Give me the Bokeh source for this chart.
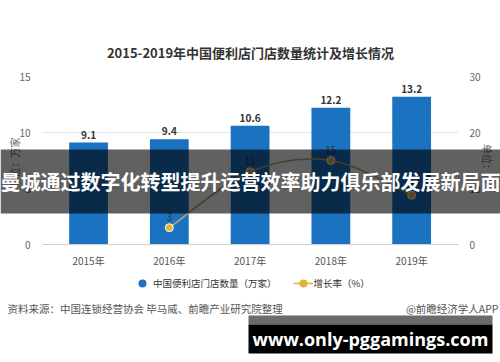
import math
from bokeh.plotting import figure
from bokeh.models import (Range1d, LinearAxis, FixedTicker, Legend, LegendItem,
                          ColumnDataSource)
from bokeh.core.properties import value
from bokeh.embed import file_html
from bokeh.resources import INLINE

# ---- data ----
years = ["2015年", "2016年", "2017年", "2018年", "2019年"]
stores = [9.1, 9.4, 10.6, 12.2, 13.2]            # 万家
growth_years = ["2016年", "2017年", "2018年", "2019年"]
growth = [3, 13, 15, 8.8]                        # %
left_ticks = [0, 5, 10, 15]
right_ticks = [0, 10, 20, 30]

title_text = "2015-2019年中国便利店门店数量统计及增长情况"
left_title = "单位：万家"
right_title = "单位：%"
legend_bar = "中国便利店门店数量（万家）"
legend_line = "增长率（%）"
source_left = "资料来源：中国连锁经营协会 毕马威、前瞻产业研究院整理"
source_right = "@前瞻经济学人APP"
banner_text = "曼城通过数字化转型提升运营效率助力俱乐部发展新局面"
site_text = "www.only-pggamings.com"

BLUE = "#1a72c0"
GOLD = "#e2b23a"
GOLD_LINE = "#bba262"
FONT = "Noto Sans CJK SC"
W, H = 500, 362

xi = list(range(len(years)))
gx = [years.index(y) for y in growth_years]

# ================= main chart =================
p = figure(width=W, height=H, output_backend="svg", toolbar_location=None,
           x_range=Range1d(-0.57, 4.58), y_range=Range1d(0, 15),
           min_border_left=42, min_border_right=42, min_border_top=76, min_border_bottom=118)
p.outline_line_color = None
p.background_fill_color = "white"
p.border_fill_color = "white"
p.extra_y_ranges = {"right": Range1d(0, 30)}

p.xaxis.ticker = FixedTicker(ticks=xi)
p.xaxis.major_label_overrides = {i: y for i, y in zip(xi, years)}
p.xaxis.major_tick_line_color = None
p.xaxis.minor_tick_line_color = None
p.xaxis.axis_line_color = "#cfcfcf"
p.xaxis.major_label_standoff = 2
p.xaxis.major_label_text_font = FONT
p.xaxis.major_label_text_font_size = "10px"
p.xaxis.major_label_text_color = "#555555"

p.yaxis.ticker = FixedTicker(ticks=left_ticks)
p.yaxis.axis_line_color = None
p.yaxis.major_tick_line_color = None
p.yaxis.minor_tick_line_color = None
p.yaxis.major_label_standoff = 6
p.yaxis.major_label_text_font = FONT
p.yaxis.major_label_text_font_size = "10px"
p.yaxis.major_label_text_color = "#666666"

ra = LinearAxis(y_range_name="right", ticker=FixedTicker(ticks=right_ticks))
ra.axis_line_color = None
ra.major_tick_line_color = None
ra.minor_tick_line_color = None
ra.major_label_standoff = 5
ra.major_label_text_font = FONT
ra.major_label_text_font_size = "10px"
ra.major_label_text_color = "#666666"
p.add_layout(ra, "right")

p.xgrid.grid_line_color = None
p.ygrid.grid_line_color = "#e3e3e3"

bsrc = ColumnDataSource(dict(x=xi, y=stores, lab=[f"{v:.1f}" for v in stores]))
p.vbar(x="x", top="y", width=0.48, source=bsrc, fill_color=BLUE, line_color=None)
p.text(x="x", y="y", text="lab", source=bsrc, y_offset=-4, text_align="center",
       text_baseline="bottom", text_font=value(FONT), text_font_style="bold",
       text_font_size="10px", text_color="#333333")

# smooth growth line (Catmull-Rom bezier through the data points)
n = len(gx)
x0s, y0s, x1s, y1s, cx0, cy0, cx1, cy1 = [], [], [], [], [], [], [], []
for i in range(n - 1):
    pa = (gx[i - 1], growth[i - 1]) if i > 0 else (gx[i], growth[i])
    pb = (gx[i], growth[i])
    pc = (gx[i + 1], growth[i + 1])
    pd = (gx[i + 2], growth[i + 2]) if i + 2 < n else (gx[i + 1], growth[i + 1])
    x0s.append(pb[0]); y0s.append(pb[1]); x1s.append(pc[0]); y1s.append(pc[1])
    cx0.append(pb[0] + (pc[0] - pa[0]) / 6); cy0.append(pb[1] + (pc[1] - pa[1]) / 6)
    cx1.append(pc[0] - (pd[0] - pb[0]) / 6); cy1.append(pc[1] - (pd[1] - pb[1]) / 6)
p.bezier(x0=x0s, y0=y0s, x1=x1s, y1=y1s, cx0=cx0, cy0=cy0, cx1=cx1, cy1=cy1,
         y_range_name="right", line_color=GOLD_LINE, line_width=1.6)
gsrc = ColumnDataSource(dict(x=gx, y=growth, lab=[f"{v:.0f}" for v in growth]))
p.scatter(x="x", y="y", source=gsrc, y_range_name="right", marker="circle", size=8,
          fill_color=GOLD, line_color="white", line_width=1)
p.text(x="x", y="y", text="lab", source=gsrc, y_range_name="right", y_offset=-7,
       text_align="center", text_baseline="bottom", text_font=value(FONT),
       text_font_size="10px", text_color="#333333")

# ================= overlay (page decorations, in pixel coordinates) =================
ov = figure(width=W, height=H, output_backend="svg", toolbar_location=None,
            x_range=Range1d(0, W), y_range=Range1d(H, 0),
            x_axis_type=None, y_axis_type=None,
            min_border_left=0, min_border_right=0, min_border_top=0, min_border_bottom=0)
ov.outline_line_color = None
ov.background_fill_color = None
ov.background_fill_alpha = 0
ov.border_fill_color = None
ov.border_fill_alpha = 0
ov.margin = (-H, 0, 0, 0)

def txt(text, x, y, size, color, align="center", bold=False, font=FONT, angle=0.0):
    ov.text(x=[x], y=[y], text=[text], text_font=value(font), text_font_size=size,
            text_color=color, text_align=align, text_baseline="middle",
            text_font_style="bold" if bold else "normal", angle=angle)

txt(title_text, 250, 52, "13px", "#333333", bold=True)
txt(left_title, 14, 162, "10px", "#666666", angle=math.pi / 2)
txt(right_title, 487, 163, "10px", "#666666", angle=-math.pi / 2)
txt(source_left, 7, 308, "10.5px", "#555555", align="left")
txt(source_right, 498, 308, "10.5px", "#555555", align="right")

# legend (proxy glyphs styled like the chart's series, placed off-canvas)
bar_leg = ov.scatter(x=[-1000], y=[-1000], marker="circle", size=10, fill_color=BLUE, line_color=None)
line_leg = ov.line(x=[-1000, -999], y=[-1000, -1000], line_color=GOLD, line_width=1.6)
pt_leg = ov.scatter(x=[-1000], y=[-1000], marker="circle", size=6, fill_color=GOLD, line_color=None)
legend = Legend(items=[LegendItem(label=legend_bar, renderers=[bar_leg]),
                       LegendItem(label=legend_line, renderers=[line_leg, pt_leg])],
                location=(132, 69), orientation="horizontal", border_line_color=None,
                background_fill_alpha=0, padding=0, margin=0, spacing=16, label_standoff=1,
                glyph_width=20, glyph_height=20, label_height=12,
                label_text_font=FONT, label_text_font_size="9.5px", label_text_color="#333333")
ov.add_layout(legend)

# headline banner across the chart
ov.quad(left=[0], right=[W], top=[149], bottom=[213], fill_color="black",
        fill_alpha=0.62, line_color=None)
txt(banner_text, 250, 181, "20px", "white", bold=True)

# site banner
ov.quad(left=[248], right=[492], top=[315], bottom=[324], fill_color="#6b6b6b", line_color=None)
ov.quad(left=[248], right=[492], top=[324], bottom=[353], fill_color="black", line_color=None)
txt(site_text, 370, 338, "18px", "white", bold=True, font="Open Sans")

open("out.html", "w").write(file_html([p, ov], INLINE))
